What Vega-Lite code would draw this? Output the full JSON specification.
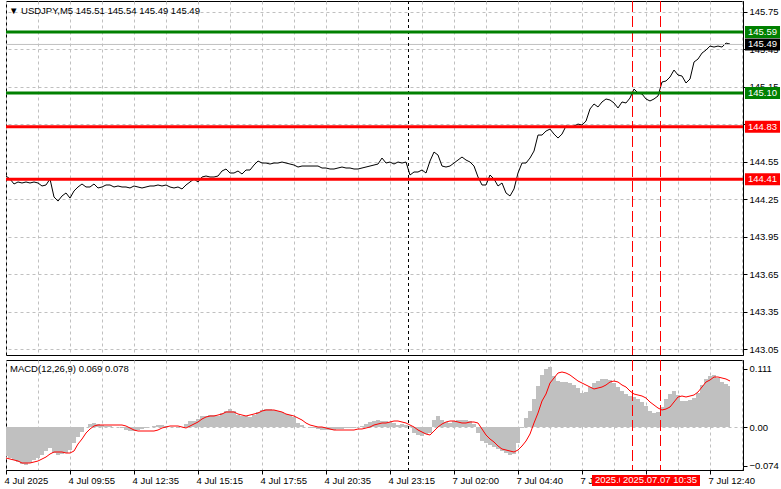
{
"$schema": "https://vega.github.io/schema/vega-lite/v6.json",
"background": "white",
"padding": {"left": 3, "top": 0, "right": 0, "bottom": 0},
"spacing": 3,
"datasets": {
"bars": [
{"i":0,"p":144.436,"h":-0.0551,"s":-0.0589},{"i":2,"p":144.412,"h":-0.0589,"s":-0.0608},{"i":4,"p":144.372,"h":-0.0627,"s":-0.0627},{"i":6,"p":144.388,"h":-0.0665,"s":-0.0646},{"i":8,"p":144.380,"h":-0.0703,"s":-0.0684},{"i":10,"p":144.388,"h":-0.0722,"s":-0.0684},{"i":12,"p":144.380,"h":-0.0684,"s":-0.0684},{"i":14,"p":144.388,"h":-0.0627,"s":-0.0665},{"i":16,"p":144.380,"h":-0.0589,"s":-0.0646},{"i":18,"p":144.356,"h":-0.0532,"s":-0.0608},
{"i":20,"p":144.364,"h":-0.0456,"s":-0.057},{"i":22,"p":144.412,"h":-0.0399,"s":-0.0513},{"i":24,"p":144.268,"h":-0.0494,"s":-0.0475},{"i":26,"p":144.235,"h":-0.0532,"s":-0.0475},{"i":28,"p":144.276,"h":-0.0513,"s":-0.0475},{"i":30,"p":144.300,"h":-0.0494,"s":-0.0494},{"i":32,"p":144.259,"h":-0.0437,"s":-0.0494},{"i":34,"p":144.316,"h":-0.0304,"s":-0.0456},{"i":36,"p":144.348,"h":-0.019,"s":-0.0323},{"i":38,"p":144.372,"h":-0.0095,"s":-0.0228},
{"i":40,"p":144.348,"h":0,"s":-0.0114},{"i":42,"p":144.348,"h":0.0057,"s":-0.0038},{"i":44,"p":144.372,"h":0.0076,"s":0.0019},{"i":46,"p":144.340,"h":0.0057,"s":0.0038},{"i":48,"p":144.348,"h":0.0038,"s":0.0038},{"i":50,"p":144.364,"h":0.0019,"s":0.0038},{"i":52,"p":144.364,"h":0.0019,"s":0.0038},{"i":54,"p":144.348,"h":0,"s":0.0038},{"i":56,"p":144.356,"h":0,"s":0.0038},{"i":58,"p":144.348,"h":-0.0019,"s":0.0038},
{"i":60,"p":144.348,"h":-0.0057,"s":0.0019},{"i":62,"p":144.340,"h":-0.0076,"s":-0.0019},{"i":64,"p":144.356,"h":-0.0076,"s":-0.0057},{"i":66,"p":144.348,"h":-0.0057,"s":-0.0076},{"i":68,"p":144.340,"h":-0.0038,"s":-0.0076},{"i":70,"p":144.348,"h":-0.0019,"s":-0.0076},{"i":72,"p":144.356,"h":0,"s":-0.0076},{"i":74,"p":144.356,"h":0.0019,"s":-0.0076},{"i":76,"p":144.364,"h":0.0038,"s":-0.0057},{"i":78,"p":144.356,"h":0.0038,"s":-0.0019},
{"i":80,"p":144.364,"h":0.0019,"s":0},{"i":82,"p":144.348,"h":0,"s":0.0019},{"i":84,"p":144.340,"h":0,"s":0.0019},{"i":86,"p":144.348,"h":-0.0019,"s":0.0019},{"i":88,"p":144.332,"h":0,"s":0},{"i":90,"p":144.364,"h":0.0057,"s":-0.0019},{"i":92,"p":144.388,"h":0.0114,"s":0.0019},{"i":94,"p":144.412,"h":0.0114,"s":0.0057},{"i":96,"p":144.388,"h":0.0152,"s":0.0095},{"i":98,"p":144.428,"h":0.0209,"s":0.0152},
{"i":100,"p":144.436,"h":0.0209,"s":0.019},{"i":102,"p":144.428,"h":0.0228,"s":0.0209},{"i":104,"p":144.428,"h":0.0228,"s":0.0209},{"i":106,"p":144.436,"h":0.0209,"s":0.0228},{"i":108,"p":144.476,"h":0.0266,"s":0.0247},{"i":110,"p":144.492,"h":0.0304,"s":0.0285},{"i":112,"p":144.460,"h":0.0342,"s":0.0285},{"i":114,"p":144.460,"h":0.0304,"s":0.0285},{"i":116,"p":144.476,"h":0.0228,"s":0.0247},{"i":118,"p":144.452,"h":0.0209,"s":0.0228},
{"i":120,"p":144.484,"h":0.0209,"s":0.0209},{"i":122,"p":144.484,"h":0.019,"s":0.0228},{"i":124,"p":144.524,"h":0.0228,"s":0.0247},{"i":126,"p":144.556,"h":0.0285,"s":0.0266},{"i":128,"p":144.540,"h":0.0323,"s":0.0304},{"i":130,"p":144.540,"h":0.0342,"s":0.0323},{"i":132,"p":144.532,"h":0.0342,"s":0.0323},{"i":134,"p":144.540,"h":0.0323,"s":0.0323},{"i":136,"p":144.540,"h":0.0304,"s":0.0304},{"i":138,"p":144.548,"h":0.0285,"s":0.0285},
{"i":140,"p":144.540,"h":0.0247,"s":0.0247},{"i":142,"p":144.532,"h":0.0228,"s":0.0228},{"i":144,"p":144.524,"h":0.019,"s":0.0209},{"i":146,"p":144.508,"h":0.0076,"s":0.0171},{"i":148,"p":144.516,"h":0.0038,"s":0.0133},{"i":150,"p":144.516,"h":0,"s":0.0076},{"i":152,"p":144.516,"h":-0.0019,"s":0.0038},{"i":154,"p":144.516,"h":-0.0019,"s":0.0019},{"i":156,"p":144.516,"h":-0.0038,"s":0},{"i":158,"p":144.500,"h":-0.0057,"s":0},
{"i":160,"p":144.500,"h":-0.0057,"s":-0.0019},{"i":162,"p":144.492,"h":-0.0057,"s":-0.0038},{"i":164,"p":144.492,"h":-0.0057,"s":-0.0057},{"i":166,"p":144.500,"h":-0.0038,"s":-0.0057},{"i":168,"p":144.508,"h":-0.0038,"s":-0.0057},{"i":170,"p":144.500,"h":-0.0019,"s":-0.0057},{"i":172,"p":144.500,"h":-0.0019,"s":-0.0057},{"i":174,"p":144.492,"h":-0.0019,"s":-0.0057},{"i":176,"p":144.492,"h":0,"s":-0.0038},{"i":178,"p":144.500,"h":0.0019,"s":-0.0038},
{"i":180,"p":144.508,"h":0.0057,"s":-0.0019},{"i":182,"p":144.516,"h":0.0095,"s":0},{"i":184,"p":144.524,"h":0.0114,"s":0.0038},{"i":186,"p":144.532,"h":0.0133,"s":0.0057},{"i":188,"p":144.580,"h":0.0114,"s":0.0076},{"i":190,"p":144.540,"h":0.0114,"s":0.0076},{"i":192,"p":144.548,"h":0.0095,"s":0.0095},{"i":194,"p":144.532,"h":0.0076,"s":0.0114},{"i":196,"p":144.548,"h":0.0038,"s":0.0114},{"i":198,"p":144.540,"h":0.0057,"s":0.0095},
{"i":200,"p":144.548,"h":0.0038,"s":0.0076},{"i":202,"p":144.444,"h":0.0019,"s":0.0038},{"i":204,"p":144.468,"h":-0.0114,"s":0},{"i":206,"p":144.468,"h":-0.0152,"s":-0.0057},{"i":208,"p":144.484,"h":-0.0171,"s":-0.0095},{"i":210,"p":144.460,"h":-0.0133,"s":-0.0133},{"i":212,"p":144.556,"h":-0.0114,"s":-0.0152},{"i":214,"p":144.628,"h":0.0133,"s":-0.0076},{"i":216,"p":144.604,"h":0.0209,"s":0},{"i":218,"p":144.516,"h":0.0133,"s":0.0057},
{"i":220,"p":144.508,"h":0.0095,"s":0.0095},{"i":222,"p":144.516,"h":0.0076,"s":0.0114},{"i":224,"p":144.540,"h":0.0114,"s":0.0114},{"i":226,"p":144.564,"h":0.0133,"s":0.0095},{"i":228,"p":144.588,"h":0.0133,"s":0.0076},{"i":230,"p":144.564,"h":0.0133,"s":0.0076},{"i":232,"p":144.548,"h":0.0114,"s":0.0095},{"i":234,"p":144.516,"h":0.0057,"s":0.0095},{"i":236,"p":144.428,"h":-0.0114,"s":0.0076},{"i":238,"p":144.364,"h":-0.0266,"s":-0.0038},
{"i":240,"p":144.364,"h":-0.0304,"s":-0.0152},{"i":242,"p":144.444,"h":-0.0342,"s":-0.0228},{"i":244,"p":144.412,"h":-0.038,"s":-0.0285},{"i":246,"p":144.356,"h":-0.0418,"s":-0.0361},{"i":248,"p":144.380,"h":-0.0456,"s":-0.0418},{"i":250,"p":144.300,"h":-0.0494,"s":-0.0437},{"i":252,"p":144.276,"h":-0.0532,"s":-0.0456},{"i":254,"p":144.332,"h":-0.0513,"s":-0.0475},{"i":256,"p":144.460,"h":-0.0304,"s":-0.0437},{"i":258,"p":144.540,"h":-0.0019,"s":-0.0361},
{"i":260,"p":144.540,"h":0.0171,"s":-0.0266},{"i":262,"p":144.580,"h":0.0304,"s":-0.0133},{"i":264,"p":144.636,"h":0.0532,"s":0.0076},{"i":266,"p":144.764,"h":0.0779,"s":0.0266},{"i":268,"p":144.764,"h":0.0988,"s":0.0494},{"i":270,"p":144.796,"h":0.1102,"s":0.0627},{"i":272,"p":144.812,"h":0.114,"s":0.0836},{"i":274,"p":144.772,"h":0.0969,"s":0.0931},{"i":276,"p":144.740,"h":0.0874,"s":0.1026},{"i":278,"p":144.772,"h":0.0855,"s":0.1045},
{"i":280,"p":144.836,"h":0.0855,"s":0.1026},{"i":282,"p":144.828,"h":0.0836,"s":0.0988},{"i":284,"p":144.836,"h":0.0798,"s":0.0931},{"i":286,"p":144.852,"h":0.0741,"s":0.0874},{"i":288,"p":144.844,"h":0.0646,"s":0.0836},{"i":290,"p":144.876,"h":0.0665,"s":0.0798},{"i":292,"p":144.973,"h":0.076,"s":0.076},{"i":294,"p":145.013,"h":0.0836,"s":0.0722},{"i":296,"p":144.989,"h":0.0874,"s":0.0741},{"i":298,"p":145.029,"h":0.0912,"s":0.076},
{"i":300,"p":145.053,"h":0.0912,"s":0.0798},{"i":302,"p":145.045,"h":0.0893,"s":0.0855},{"i":304,"p":145.021,"h":0.0836,"s":0.0874},{"i":306,"p":144.981,"h":0.076,"s":0.0855},{"i":308,"p":145.029,"h":0.0684,"s":0.0798},{"i":310,"p":145.021,"h":0.0627,"s":0.076},{"i":312,"p":145.061,"h":0.0589,"s":0.0684},{"i":314,"p":145.133,"h":0.057,"s":0.0627},{"i":316,"p":145.101,"h":0.0532,"s":0.0608},{"i":318,"p":145.093,"h":0.0475,"s":0.0589},
{"i":320,"p":145.053,"h":0.0399,"s":0.0551},{"i":322,"p":145.037,"h":0.0304,"s":0.0475},{"i":324,"p":145.053,"h":0.0266,"s":0.0418},{"i":326,"p":145.077,"h":0.0285,"s":0.0361},{"i":328,"p":145.189,"h":0.038,"s":0.0323},{"i":330,"p":145.197,"h":0.0532,"s":0.0342},{"i":332,"p":145.229,"h":0.0627,"s":0.038},{"i":334,"p":145.285,"h":0.0684,"s":0.0475},{"i":336,"p":145.245,"h":0.0608,"s":0.057},{"i":338,"p":145.237,"h":0.0494,"s":0.0589},
{"i":340,"p":145.181,"h":0.0494,"s":0.057},{"i":342,"p":145.213,"h":0.0513,"s":0.0589},{"i":344,"p":145.349,"h":0.0551,"s":0.0608},{"i":346,"p":145.373,"h":0.0646,"s":0.0665},{"i":348,"p":145.421,"h":0.0798,"s":0.076},{"i":350,"p":145.445,"h":0.0912,"s":0.0855},{"i":352,"p":145.477,"h":0.0969,"s":0.0893},{"i":354,"p":145.469,"h":0.0988,"s":0.095},{"i":356,"p":145.477,"h":0.0931,"s":0.095},{"i":358,"p":145.469,"h":0.0855,"s":0.0931},
{"i":360,"p":145.501,"h":0.0817,"s":0.0912},{"i":362,"p":145.493,"h":0.0779,"s":0.0874}
],
"levels": [
{"level":145.59,"col":"#008000"},{"level":145.10,"col":"#008000"},{"level":144.83,"col":"#ff0000"},{"level":144.41,"col":"#ff0000"}
],
"tags": [
{"level":145.59,"col":"#008000"},{"level":145.49,"col":"#000000"},{"level":145.10,"col":"#008000"},{"level":144.83,"col":"#ff0000"},{"level":144.41,"col":"#ff0000"}
]
},
"vconcat": [
{
"width": 737,
"height": 354,
"layer": [
{
"data": {"name": "bars"},
"mark": {"type": "line", "color": "#000000", "strokeWidth": 1},
"encoding": {
"x": {"field": "i", "type": "quantitative", "scale": {"domain": [0, 368.5], "nice": false, "zero": false},
"axis": {"values": [0,16,32,48,64,80,96,112,128,144,160,176,192,208,224,240,256,272,288,304,320,336,352,368], "tickCount": 40, "labels": false, "ticks": false, "domain": false, "grid": true}},
"y": {"field": "p", "type": "quantitative", "scale": {"domain": [143.002, 145.838], "nice": false, "zero": false},
"axis": {"orient": "right", "values": [143.05,143.35,143.65,143.95,144.25,144.55,144.85,145.15,145.45,145.75], "tickCount": 20, "format": ".2f", "tickSize": 4, "labelPadding": 2, "labelOverlap": false, "labelFlush": false, "labelBound": false, "grid": true}}
}
},
{
"data": {"values": [{}]},
"mark": {"type": "rule", "color": "#c0c0c0", "strokeWidth": 1},
"encoding": {"y": {"datum": 145.49}}
},
{
"data": {"values": [{}]},
"mark": {"type": "rule", "color": "#000000", "strokeWidth": 1, "strokeDash": [3, 3]},
"encoding": {"x": {"datum": 201.25}}
},
{
"data": {"values": [{}]},
"mark": {"type": "rule", "color": "#ff0000", "strokeWidth": 1, "strokeDash": [11, 4]},
"encoding": {"x": {"datum": 313.25}}
},
{
"data": {"values": [{}]},
"mark": {"type": "rule", "color": "#ff0000", "strokeWidth": 1, "strokeDash": [11, 4]},
"encoding": {"x": {"datum": 327.25}}
},
{
"data": {"name": "levels"},
"mark": {"type": "rule", "strokeWidth": 3},
"encoding": {
"y": {"field": "level", "type": "quantitative"},
"color": {"field": "col", "type": "nominal", "scale": null}
}
},
{
"data": {"name": "tags"},
"mark": {"type": "point", "shape": "M-1.46,-0.5L1.46,-0.5L1.46,0.5L-1.46,0.5Z", "filled": true, "size": 576, "opacity": 1, "strokeWidth": 0},
"encoding": {
"x": {"datum": 378.25},
"y": {"field": "level", "type": "quantitative"},
"color": {"field": "col", "type": "nominal", "scale": null}
}
},
{
"data": {"name": "tags"},
"mark": {"type": "text", "color": "#ffffff", "font": "Liberation Sans", "fontSize": 9.5, "align": "center", "baseline": "middle"},
"encoding": {
"x": {"datum": 378.25},
"y": {"field": "level", "type": "quantitative"},
"text": {"field": "level", "type": "quantitative", "format": ".2f"}
}
},
{
"data": {"values": [{}]},
"mark": {"type": "text", "color": "#000000", "font": "Liberation Sans", "fontSize": 9.5, "align": "left", "baseline": "middle"},
"encoding": {
"x": {"datum": 1.5},
"y": {"datum": 145.758},
"text": {"value": "▼ USDJPY,M5  145.51 145.54 145.49 145.49"}
}
}
]
},
{
"width": 737,
"height": 110,
"layer": [
{
"data": {"name": "bars"},
"mark": {"type": "area", "color": "#c0c0c0", "interpolate": "step", "opacity": 1},
"encoding": {
"x": {"field": "i", "type": "quantitative", "scale": {"domain": [0, 368.5], "nice": false, "zero": false},
"axis": {"orient": "bottom", "values": [0,16,32,48,64,80,96,112,128,144,160,176,192,208,224,240,256,272,288,304,320,336,352,368], "tickCount": 40,
"labelExpr": "datum.value % 32 == 0 ? ['4 Jul 2025','4 Jul 09:55','4 Jul 12:35','4 Jul 15:15','4 Jul 17:55','4 Jul 20:35','4 Jul 23:15','7 Jul 02:00','7 Jul 04:40','7 Jul 07:20','7 Jul 10:00','7 Jul 12:40'][datum.value / 32] : ''",
"labelAlign": "left", "labelBaseline": "top", "labelOffset": -2, "labelPadding": 1, "tickSize": 4,
"tickOpacity": {"condition": {"test": "datum.value % 32 == 0", "value": 1}, "value": 0},
"labelOverlap": false, "labelFlush": false, "grid": true, "domain": true}},
"y": {"field": "h", "type": "quantitative", "scale": {"domain": [-0.0817, 0.1273], "nice": false, "zero": false},
"axis": {"orient": "right", "values": [-0.074, 0, 0.111], "tickCount": 10, "labelExpr": "datum.value == 0 ? '0.00' : format(datum.value, '.3f')", "tickSize": 4, "labelPadding": 2, "labelOverlap": false, "labelFlush": false, "grid": true,
"gridOpacity": {"condition": {"test": "datum.value == 0", "value": 1}, "value": 0}}},
"y2": {"datum": 0}
}
},
{
"data": {"name": "bars"},
"mark": {"type": "line", "color": "#ff0000", "strokeWidth": 1},
"encoding": {
"x": {"field": "i", "type": "quantitative"},
"y": {"field": "s", "type": "quantitative"}
}
},
{
"data": {"values": [{}]},
"mark": {"type": "rule", "color": "#000000", "strokeWidth": 1, "strokeDash": [3, 3]},
"encoding": {"x": {"datum": 201.25}}
},
{
"data": {"values": [{}]},
"mark": {"type": "rule", "color": "#ff0000", "strokeWidth": 1, "strokeDash": [11, 4]},
"encoding": {"x": {"datum": 313.25}}
},
{
"data": {"values": [{}]},
"mark": {"type": "rule", "color": "#ff0000", "strokeWidth": 1, "strokeDash": [11, 4]},
"encoding": {"x": {"datum": 327.25}}
},
{
"data": {"values": [{}]},
"mark": {"type": "text", "color": "#000000", "font": "Liberation Sans", "fontSize": 9.5, "align": "left", "baseline": "middle"},
"encoding": {
"x": {"datum": 2},
"y": {"datum": 0.1102},
"text": {"value": "MACD(12,26,9) 0.069 0.078"}
}
},
{
"data": {"values": [{}]},
"mark": {"type": "rect", "color": "#ff0000", "opacity": 1},
"encoding": {"x": {"datum": 293}, "x2": {"datum": 333}, "y": {"datum": -0.0912}, "y2": {"datum": -0.1121}}
},
{
"data": {"values": [{}]},
"mark": {"type": "text", "color": "#ffffff", "font": "Liberation Sans", "fontSize": 9.5, "align": "left", "baseline": "middle"},
"encoding": {"x": {"datum": 294.5}, "y": {"datum": -0.1016}, "text": {"value": "2025.07.07 09:25"}}
},
{
"data": {"values": [{}]},
"mark": {"type": "rect", "color": "#ff0000", "opacity": 1},
"encoding": {"x": {"datum": 307}, "x2": {"datum": 347}, "y": {"datum": -0.0912}, "y2": {"datum": -0.1121}}
},
{
"data": {"values": [{}]},
"mark": {"type": "text", "color": "#ffffff", "font": "Liberation Sans", "fontSize": 9.5, "align": "center", "baseline": "middle"},
"encoding": {"x": {"datum": 327}, "y": {"datum": -0.1016}, "text": {"value": "2025.07.07 10:35"}}
}
]
}
],
"config": {
"view": {"stroke": "#000000", "strokeWidth": 1},
"axis": {"title": null, "labelOverlap": false, "labelFont": "Liberation Sans", "labelFontSize": 9.5, "labelColor": "#000000", "tickColor": "#000000", "domainColor": "#000000", "gridColor": "#c0c0c0", "gridDash": [3, 3], "gridWidth": 1}
}
}
